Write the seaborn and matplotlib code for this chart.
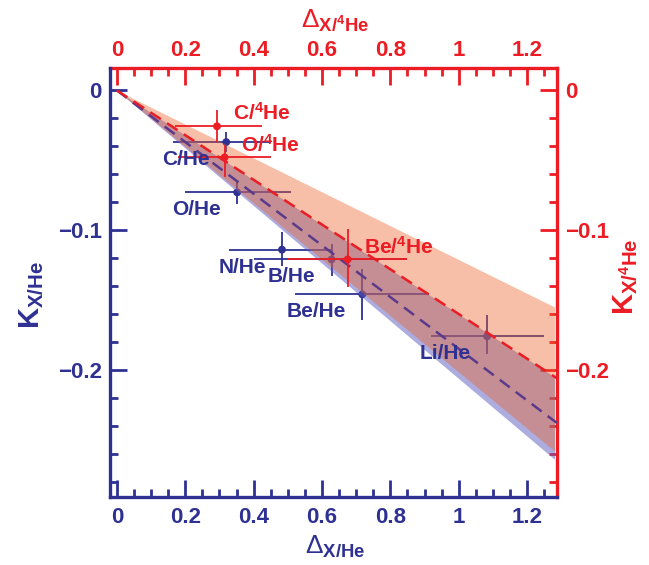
import numpy as np
import pandas as pd
import matplotlib
matplotlib.use('Agg')
import matplotlib.pyplot as plt
import seaborn as sns

# ── Data ──────────────────────────────────────────────────
blue_names = ['C/He', 'O/He', 'N/He', 'B/He', 'Be/He', 'Li/He']
blue_x     = [0.320, 0.352, 0.483, 0.628, 0.718, 1.083]
blue_y     = [-0.037, -0.073, -0.114, -0.121, -0.146, -0.176]
blue_xlo   = [0.164, 0.199, 0.327, 0.400, 0.520, 0.920]
blue_xhi   = [0.452, 0.510, 0.630, 0.850, 0.914, 1.250]
blue_ylo   = [-0.044, -0.081, -0.126, -0.133, -0.164, -0.189]
blue_yhi   = [-0.030, -0.065, -0.101, -0.110, -0.128, -0.161]

red_names = [r'$\mathbf{C/^{4}He}$', r'$\mathbf{O/^{4}He}$', r'$\mathbf{Be/^{4}He}$']
red_x     = [0.293, 0.315, 0.675]
red_y     = [-0.0257, -0.048, -0.121]
red_xlo   = [0.169, 0.180, 0.500]
red_xhi   = [0.426, 0.452, 0.850]
red_ylo   = [-0.037, -0.062, -0.141]
red_yhi   = [-0.014, -0.039, -0.099]

# bands and fitted lines (edges from the origin to the right end)
band_x        = [0.0, 1.28]
blue_band_hi  = [0.0, -0.205]
blue_band_lo  = [0.0, -0.264]
red_band_hi   = [0.0, -0.155]
red_band_lo   = [0.0, -0.258]
line_x        = [0.0, 1.287]
red_line_y    = [0.0, -0.206]
purple_line_y = [0.0, -0.238]

x_ticks  = [0, 0.2, 0.4, 0.6, 0.8, 1.0, 1.2]
x_labels = ['0', '0.2', '0.4', '0.6', '0.8', '1', '1.2']
y_ticks  = [0, -0.1, -0.2]
y_labels = ['0', '\u22120.1', '\u22120.2']

NAVY = '#2e3192'
RED = '#ec1c24'
PURPLE = '#5b3a8c'

# ── Style ─────────────────────────────────────────────────
sns.set_theme(style='ticks')
plt.rcParams['font.family'] = ['Liberation Sans', 'DejaVu Sans']
plt.rcParams['font.weight'] = 'bold'
plt.rcParams['mathtext.fontset'] = 'custom'
plt.rcParams['mathtext.rm'] = 'Liberation Sans:weight=normal'
plt.rcParams['mathtext.bf'] = 'Liberation Sans:weight=bold'
plt.rcParams['mathtext.it'] = 'Liberation Sans:style=italic:weight=normal'

fig = plt.figure(figsize=(6.49, 5.65), dpi=100)
ax = fig.add_axes([0.1695, 0.1204, 0.6885, 0.7592])

blue = pd.DataFrame({'x': blue_x, 'y': blue_y})
red = pd.DataFrame({'x': red_x, 'y': red_y})

# blue points (below the bands)
ax.errorbar(blue_x, blue_y,
            xerr=[np.subtract(blue_x, blue_xlo), np.subtract(blue_xhi, blue_x)],
            yerr=[np.subtract(blue_y, blue_ylo), np.subtract(blue_yhi, blue_y)],
            fmt='none', ecolor=NAVY, elinewidth=1.3, capsize=0, zorder=1)
sns.scatterplot(data=blue, x='x', y='y', color=NAVY, s=32, edgecolor='none',
                ax=ax, zorder=1, legend=False)

# bands
ax.fill_between(band_x, blue_band_hi, blue_band_lo, color='#5a5abe',
                alpha=0.5, lw=0, zorder=2)
ax.fill_between(band_x, red_band_hi, red_band_lo, color='#ed6125',
                alpha=0.4, lw=0, zorder=2.5)

# dashed lines
ax.plot(line_x, purple_line_y, color=PURPLE, lw=1.8, ls=(0, (5, 3)), zorder=3)
ax.plot(line_x, red_line_y, color=RED, lw=1.8, ls=(0, (5, 3)), zorder=3)

# red points (above the bands)
ax.errorbar(red_x, red_y,
            xerr=[np.subtract(red_x, red_xlo), np.subtract(red_xhi, red_x)],
            yerr=[np.subtract(red_y, red_ylo), np.subtract(red_yhi, red_y)],
            fmt='none', ecolor=RED, elinewidth=1.3, capsize=0, zorder=4)
sns.scatterplot(data=red, x='x', y='y', color=RED, s=32, edgecolor='none',
                ax=ax, zorder=4, legend=False)

# point labels
for name, x, y in zip(blue_names, blue_x, blue_y):
    ax.annotate(name, (x, y), xytext=(-16, -23), textcoords='offset pixels',
                ha='right', va='baseline', fontsize=15, color=NAVY,
                fontweight='bold', zorder=5)
for name, x, y in zip(red_names, red_x, red_y):
    ax.annotate(name, (x, y), xytext=(16, 6), textcoords='offset pixels',
                ha='left', va='baseline', fontsize=15, color=RED, zorder=5)

# ── Axes ──────────────────────────────────────────────────
ax.set_xlabel('')
ax.set_ylabel('')
ax.set_xlim(-0.02, 1.287)
ax.set_ylim(-0.291, 0.016)
ax.set_xticks(x_ticks, x_labels)
ax.set_yticks(y_ticks, y_labels)
ax.set_xticks(np.arange(0, 1.29, 0.05), minor=True)
ax.set_yticks(np.arange(-0.28, 0.001, 0.02), minor=True)
ax.tick_params(which='both', direction='in', color=NAVY, width=2,
               labelcolor=NAVY, labelsize=16)
ax.tick_params(which='major', length=12)
ax.tick_params(which='minor', length=6)
ax.tick_params(axis='x', pad=7)
ax.tick_params(axis='y', pad=6)
for s in ['left', 'bottom']:
    ax.spines[s].set_color(NAVY)
    ax.spines[s].set_linewidth(2.4)
for s in ['top', 'right']:
    ax.spines[s].set_visible(False)

secx = ax.secondary_xaxis('top')
secx.set_xticks(x_ticks, x_labels)
secx.set_xticks(np.arange(0, 1.29, 0.05), minor=True)
secx.tick_params(which='both', direction='in', color=RED, width=2,
                 labelcolor=RED, labelsize=16, pad=5)
secx.tick_params(which='major', length=12)
secx.tick_params(which='minor', length=6)
secx.spines['top'].set_color(RED)
secx.spines['top'].set_linewidth(2.4)

secy = ax.secondary_yaxis('right')
secy.set_yticks(y_ticks, y_labels)
secy.set_yticks(np.arange(-0.28, 0.001, 0.02), minor=True)
secy.tick_params(which='both', direction='in', color=RED, width=2,
                 labelcolor=RED, labelsize=16, pad=6)
secy.tick_params(which='major', length=12)
secy.tick_params(which='minor', length=6)
secy.spines['right'].set_color(RED)
secy.spines['right'].set_linewidth(2.4)

# axis titles
fig.text(335 / 649, 1 - 546 / 565, r'$\mathrm{\Delta}_{\mathbf{X/He}}$', color=NAVY,
         fontsize=19, ha='center', va='center')
fig.text(335 / 649, 1 - 20 / 565, r'$\mathrm{\Delta}_{\mathbf{X/^{4}He}}$', color=RED,
         fontsize=19, ha='center', va='center')
fig.text(32 / 649, 1 - 295 / 565, r'$\mathbf{K}_{\mathbf{X/He}}$', color=NAVY,
         fontsize=21, ha='center', va='center', rotation=90)
fig.text(626 / 649, 1 - 277 / 565, r'$\mathbf{K}_{\mathbf{X/^{4}He}}$', color=RED,
         fontsize=21, ha='center', va='center', rotation=90)

plt.savefig('out.png', dpi=100)
